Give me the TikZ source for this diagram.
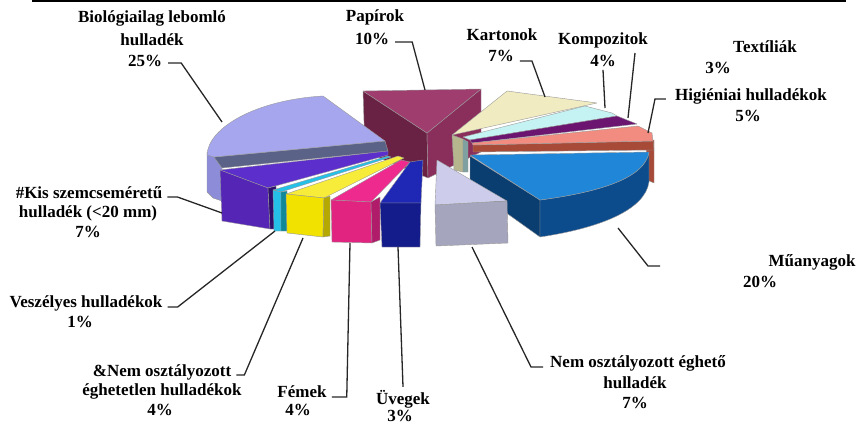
\documentclass[tikz,border=0pt]{standalone}
\usepackage{fontspec}
\setmainfont{Liberation Serif}

\definecolor{bioTop}{HTML}{A6A6EE}
\definecolor{bioRim}{HTML}{8C8CD8}
\definecolor{bioCut}{HTML}{5A6288}
\definecolor{papTop}{HTML}{9E3D6E}
\definecolor{papLeft}{HTML}{6A2244}
\definecolor{papRight}{HTML}{8A2E5C}
\definecolor{kartTop}{HTML}{F0EBC0}
\definecolor{kartSide}{HTML}{B5B58E}
\definecolor{kompTop}{HTML}{C5F2F2}
\definecolor{kompSide}{HTML}{7FA0A0}
\definecolor{texTop}{HTML}{6B1470}
\definecolor{higTop}{HTML}{F28C80}
\definecolor{higSide}{HTML}{A84A38}
\definecolor{muTop}{HTML}{1F86D8}
\definecolor{muCut}{HTML}{0A3D70}
\definecolor{muRim}{HTML}{0D4C8C}
\definecolor{neTop}{HTML}{CDCDEB}
\definecolor{neFront}{HTML}{A5A5BE}
\definecolor{kisTop}{HTML}{5C2ECC}
\definecolor{kisFront}{HTML}{5526B5}
\definecolor{kisSide}{HTML}{2E0F6E}
\definecolor{veszTop}{HTML}{25C0E8}
\definecolor{veszSide}{HTML}{108898}
\definecolor{negTop}{HTML}{F7EC3A}
\definecolor{negFront}{HTML}{F2E200}
\definecolor{negSide}{HTML}{B5A800}
\definecolor{femTop}{HTML}{EE2A8F}
\definecolor{femFront}{HTML}{E0247F}
\definecolor{femSide}{HTML}{B01C6A}
\definecolor{uvTop}{HTML}{1E28B4}
\definecolor{uvFront}{HTML}{141C8C}

\begin{document}
\begin{tikzpicture}[x=1pt, y=-1pt,
    lbl/.style={font=\bfseries\fontsize{17}{20}\selectfont, inner sep=1pt},
    leader/.style={line width=1.3pt, black!85},
    face/.style={draw=black!40, line width=0.4pt, line join=round}]
    \useasboundingbox (0,0) rectangle (858,425);

    % --- Top rule ---
    \draw[line width=2.2pt] (32,1.2) -- (846,1.2);

    % --- Back slices ---
    \draw[face, fill=papLeft]  (363,91) -- (427,133) -- (428,178) -- (365,152) -- cycle;
    \draw[face, fill=papRight] (427,133) -- (481,89) -- (481,152) -- (428,178) -- cycle;
    \draw[face, fill=papTop]   (363,91) -- (481,89) -- (427,133) -- cycle;

    \draw[face, fill=kartSide] (452,135) -- (463,139) -- (463,172) -- (454,170) -- cycle;
    \draw[face, fill=kartTop]  (452,135) -- (507,91) -- (597,103) -- cycle;
    \draw[face, fill=kompSide] (463,139) -- (468,142) -- (468,172) -- (463,172) -- cycle;
    \draw[face, fill=kompTop]  (463,137) -- (585,106) -- (612,113) -- (617,116) -- (470,140) -- cycle;
    \draw[face, fill=texTop]   (470,140) -- (617,116) -- (637,124) -- (472,143) -- cycle;

    \draw[face, fill=higSide]  (646,141) -- (654,140) -- (654,183) -- (647,180) -- cycle;
    \draw[face, fill=higSide]  (473,145) -- (653,141) -- (654,150) -- (473,152) -- cycle;
    \draw[face, fill=higTop]   (472,143) -- (638,126) -- (652,133) -- (653,141) -- (473,145) -- cycle;

    % --- Right slices ---
    \draw[face, fill=muCut] (470,156) -- (540,200) -- (540,237) -- (470,187) -- cycle;
    \draw[face, fill=muRim] (540,200) .. controls (600,192) and (645,178) .. (649,152)
        -- (649,182) .. controls (645,210) and (600,228) .. (540,237) -- cycle;
    \draw[face, fill=muTop] (470,155) -- (649,152) .. controls (645,178) and (600,192) .. (540,200) -- cycle;

    % --- Left slice ---
    \draw[face, fill=bioRim] (207,152) -- (207,192) -- (213,198) -- (222,201) -- (222,168) -- (215,158) -- cycle;
    \draw[face, fill=bioCut] (214,157) -- (385,141) -- (388,151) -- (222,168) -- cycle;
    \draw[face, fill=bioTop] (207,155) .. controls (208,128) and (255,100) .. (323,96)
        -- (385,141) -- (214,157) -- cycle;

    % --- Front slices ---
    \draw[face, fill=kisTop]   (220,170) -- (388,151) -- (388,155) -- (268,188) -- cycle;
    \draw[face, fill=kisFront] (220,170) -- (268,188) -- (270,229) -- (222,221) -- cycle;
    \draw[face, fill=kisSide]  (268,188) -- (276,186) -- (277,229) -- (270,229) -- cycle;

    \draw[face, fill=veszTop]  (273,190) -- (388,156) -- (391,157) -- (281,192) -- cycle;
    \draw[face, fill=veszTop]  (273,190) -- (281,192) -- (281,231) -- (274,231) -- cycle;
    \draw[face, fill=veszSide] (281,192) -- (287,191) -- (287,231) -- (281,231) -- cycle;

    \draw[face, fill=negTop]   (286,194) -- (398,156) -- (404,158) -- (324,198) -- cycle;
    \draw[face, fill=negFront] (286,194) -- (324,198) -- (323,237) -- (287,233) -- cycle;
    \draw[face, fill=negSide]  (324,198) -- (330,196) -- (330,236) -- (323,237) -- cycle;

    \draw[face, fill=femTop]   (331,200) -- (401,160) -- (410,162) -- (371,202) -- cycle;
    \draw[face, fill=femFront] (331,200) -- (371,202) -- (372,243) -- (332,242) -- cycle;
    \draw[face, fill=femSide]  (371,202) -- (380,197) -- (380,240) -- (372,243) -- cycle;

    \draw[face, fill=uvTop]   (380,203) -- (410,162) -- (423,160) -- (421,203) -- cycle;
    \draw[face, fill=uvFront] (380,203) -- (421,203) -- (420,247) -- (382,247) -- cycle;

    \draw[face, fill=neTop]   (437,160) -- (507,201) -- (435,205) -- cycle;
    \draw[face, fill=neFront] (435,205) -- (507,201) -- (508,243) -- (436,246) -- cycle;

    % --- Leader ends on the slices ---
    \coordinate (bioTip)  at (222,122);
    \coordinate (papTip)  at (425,90);
    \coordinate (kartTip) at (545,97);
    \coordinate (kompTip) at (605,108);
    \coordinate (texTop)  at (635,53);
    \coordinate (texTip)  at (628,118);
    \coordinate (higTip)  at (648,133);
    \coordinate (muFoot)  at (660,266);
    \coordinate (muTip)   at (618,228);
    \coordinate (neTip)   at (472,247);
    \coordinate (uvTip)   at (398,247);
    \coordinate (femTip)  at (350,243);
    \coordinate (negTip)  at (303,238);
    \coordinate (veszTip) at (275,231);
    \coordinate (kisTip)  at (222,213);

    % --- Labels ---
    \node[lbl] (bio1) at (152,18) {Biológiailag lebomló};
    \node[lbl] (bio2) at (152,40) {hulladék};
    \node[lbl] (bio3) at (145,61) {25\%};
    \node[lbl] (pap1) at (375,17) {Papírok};
    \node[lbl] (pap2) at (372,39) {10\%};
    \node[lbl] (kart1) at (502,35) {Kartonok};
    \node[lbl] (kart2) at (501,56) {7\%};
    \node[lbl] (komp1) at (603,40) {Kompozitok};
    \node[lbl] (komp2) at (603,61) {4\%};
    \node[lbl] (tex1) at (765,47) {Textíliák};
    \node[lbl] (tex2) at (718,68) {3\%};
    \node[lbl] (hig1) at (751,96) {Higiéniai hulladékok};
    \node[lbl] (hig2) at (748,116) {5\%};
    \node[lbl] (mu1) at (812,262) {Műanyagok};
    \node[lbl] (mu2) at (760,282) {20\%};
    \node[lbl] (ne1) at (638,363) {Nem osztályozott éghető};
    \node[lbl] (ne2) at (635,383) {hulladék};
    \node[lbl] (ne3) at (635,403) {7\%};
    \node[lbl] (uv1) at (403,399) {Üvegek};
    \node[lbl] (uv2) at (400,416) {3\%};
    \node[lbl] (fem1) at (302,392) {Fémek};
    \node[lbl] (fem2) at (298,410) {4\%};
    \node[lbl] (neg1) at (162,372) {\&Nem osztályozott};
    \node[lbl] (neg2) at (162,391) {éghetetlen hulladékok};
    \node[lbl] (neg3) at (160,410) {4\%};
    \node[lbl] (vesz1) at (86,303) {Veszélyes hulladékok};
    \node[lbl] (vesz2) at (80,322) {1\%};
    \node[lbl] (kis1) at (89,193) {\#Kis szemcseméretű};
    \node[lbl] (kis2) at (88,213) {hulladék (<20 mm)};
    \node[lbl] (kis3) at (88,232) {7\%};

    % --- Leaders ---
    \draw[leader] ([shift={(5,2)}]bio3.east) -- ++(13,0) -- (bioTip);
    \draw[leader] ([shift={(5,3)}]pap2.east) -- ++(17,0) -- (papTip);
    \draw[leader] ([shift={(5,5)}]kart2.east) -- ++(12,0) -- (kartTip);
    \draw[leader] ([yshift=-2pt]komp2.south) -- (kompTip);
    \draw[leader] (texTop) -- (texTip);
    \draw[leader] ([shift={(-8,3)}]hig1.west) -- ++(-11,0) -- (higTip);
    \draw[leader] (muFoot) -- ++(-12,0) -- (muTip);
    \draw[leader] ([shift={(-6,4)}]ne1.west) -- ++(-12,0) -- (neTip);
    \draw[leader] ([yshift=2pt]uv1.north) -- (uvTip);
    \draw[leader] ([shift={(4,5)}]fem1.east) -- ++(15,0) -- (femTip);
    \draw[leader] ([shift={(4,3)}]neg1.east) -- ++(8,0) -- (negTip);
    \draw[leader] ([shift={(4,4)}]vesz1.east) -- ++(10,0) -- (veszTip);
    \draw[leader] ([shift={(4,4)}]kis1.east) -- ++(10,0) -- (kisTip);
\end{tikzpicture}
\end{document}
